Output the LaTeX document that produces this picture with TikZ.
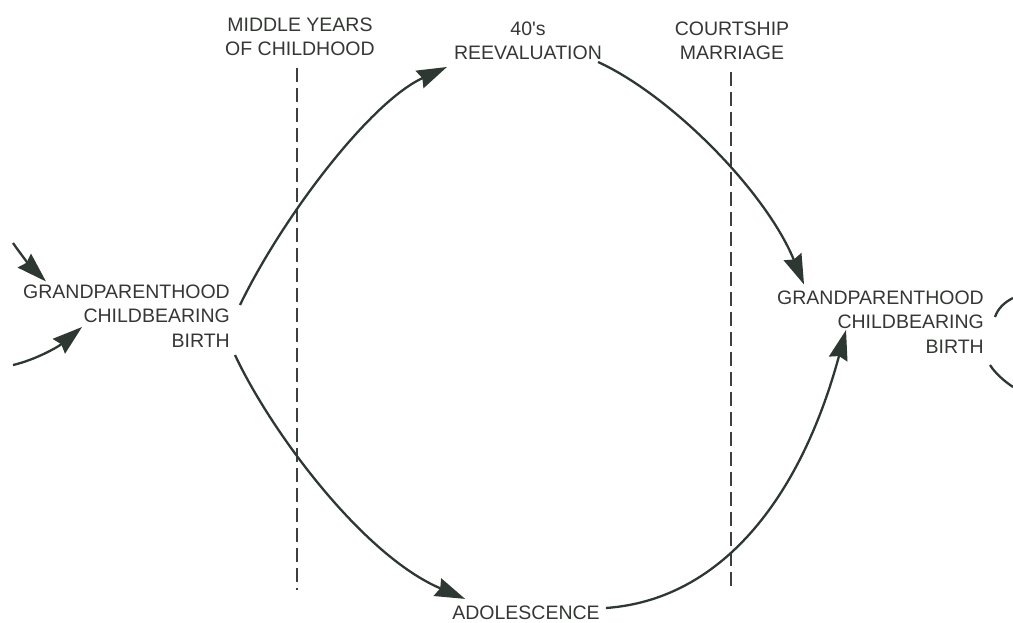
\documentclass[tikz,border=0pt]{standalone}
\usepackage{fontspec}
\setmainfont{Liberation Sans}
\usetikzlibrary{arrows.meta}
\definecolor{ink}{HTML}{343734}
\definecolor{lineink}{HTML}{2E3832}
\definecolor{dashink}{HTML}{3C3F3C}
\begin{document}
\begin{tikzpicture}[x=1pt,y=-1pt,
  lbl/.style={inner sep=0pt, text=ink, font=\fontsize{19.5}{24.5}\selectfont},
  flow/.style={draw=lineink, line width=2.3pt, -{Stealth[length=30pt,width=19pt,inset=3pt]}},
  arc/.style={draw=lineink, line width=2.3pt},
  divider/.style={draw=dashink, line width=1.8pt, dash pattern=on 14pt off 6pt}]
\useasboundingbox (0,0) rectangle (1013,623);

% nodes
\node[lbl, align=right, anchor=east] (L) at (230,316) {GRANDPARENTHOOD\\CHILDBEARING\\BIRTH};
\node[lbl, align=right, anchor=east] (R) at (984,322) {GRANDPARENTHOOD\\CHILDBEARING\\BIRTH};
\node[lbl, align=center] (M) at (300,37) {MIDDLE YEARS\\OF CHILDHOOD};
\node[lbl, align=center] (F) at (528,41) {40\textquotesingle s\\REEVALUATION};
\node[lbl, align=center] (C) at (732,41) {COURTSHIP\\MARRIAGE};
\node[lbl] (A) at (526,613) {ADOLESCENCE};

% free ends
\coordinate (d1a) at (297,68);  \coordinate (d1b) at (297,590);
\coordinate (d2a) at (731,72);  \coordinate (d2b) at (731,592);
\coordinate (in1) at (13,243);  \coordinate (in2) at (13,365);
\coordinate (out1) at (1013,298); \coordinate (out2) at (1013,387);

% dividers
\draw[divider] (d1a) -- (d1b);
\draw[divider] (d2a) -- (d2b);

% main flows
\draw[flow] ([shift={(10,-11)}]L.east) .. controls (282,218) and (370,102) .. ([shift={(-7,26)}]F.west);
\draw[flow] ([shift={(-4,21)}]F.east) .. controls (670,95) and (765,190) .. ([shift={(27,-6)}]R.north west);
\draw[flow] ([shift={(5,39)}]L.east) .. controls (270,430) and (362,555) .. ([shift={(13,-7)}]A.north west);
\draw[flow] ([shift={(6,-5)}]A.east) .. controls (720,600) and (800,500) .. ([shift={(69,8)}]R.west);

% incoming and outgoing
\draw[flow] (in1) .. controls (22,256) and (32,268) .. ([shift={(23,-3)}]L.north west);
\draw[flow] (in2) .. controls (35,360) and (58,347) .. ([shift={(59,11)}]L.west);
\draw[arc] ([shift={(11,-5)}]R.east) .. controls (998,308) and (1005,302) .. (out1);
\draw[arc] ([shift={(6,43)}]R.east) .. controls (995,373) and (1004,381) .. (out2);
\end{tikzpicture}
\end{document}
